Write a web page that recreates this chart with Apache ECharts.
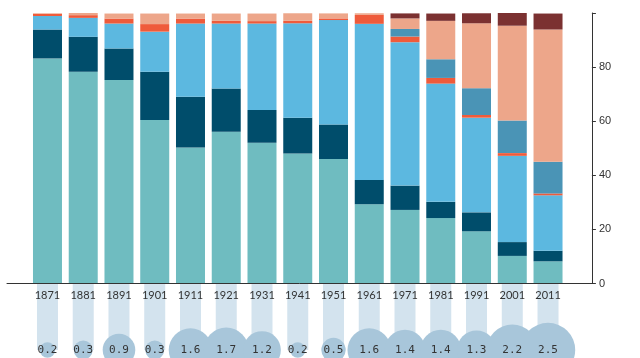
<!DOCTYPE html>
<html>
<head>
<meta charset="utf-8">
<script src="https://cdn.jsdelivr.net/npm/echarts@6/dist/echarts.min.js"></script>
<style>html,body{margin:0;padding:0;background:#fff;}#c{width:640px;height:358px;}</style>
</head>
<body>
<div id="c"></div>
<script>
const years = ['1871','1881','1891','1901','1911','1921','1931','1941','1951','1961','1971','1981','1991','2001','2011'];
const teal = [83.2,78.3,75.2,60.4,50.3,56.1,52.0,48.1,46.0,29.3,27.2,24.2,19.3,10.2,8.2];
const navy = [10.7,12.9,11.7,17.9,18.7,16.0,12.1,13.2,12.8,9.0,9.0,6.0,7.0,5.1,3.9];
const lightBlue = [5.0,7.0,9.2,14.8,27.1,24.0,32.0,34.9,38.6,57.7,53.0,43.7,35.0,31.9,20.5];
const red = [0.8,1.0,1.85,2.8,1.85,1.0,0.9,0.9,0.6,3.3,2.1,2.1,1.0,1.0,0.7];
const steel = [0,0,0,0,0,0,0,0,0,0,2.8,6.9,9.9,12.1,11.7];
const salmon = [0.2,0.8,1.85,3.9,1.85,2.7,2.8,2.8,1.85,0.6,3.9,14.2,24.0,35.0,48.9];
const maroon = [0,0,0,0,0,0,0,0,0,0,1.85,2.7,3.7,4.7,5.9];
const bubbles = [0.2,0.3,0.9,0.3,1.6,1.7,1.2,0.2,0.5,1.6,1.4,1.4,1.3,2.2,2.5];
const stemLevel = [1,1,1,1,1,1,1,1,1,1,1,1,1,1,1];
const yTicks = [0,20,40,60,80];

const stackColors = ['#6fbcc0','#004d6b','#5cb8e0','#ef5b3b','#4a94b6','#eda68a','#7b3131'];
const stackData = [teal, navy, lightBlue, red, steel, salmon, maroon];

const chart = echarts.init(document.getElementById('c'));
const series = stackData.map((d, k) => ({
  type: 'bar', stack: 'total', xAxisIndex: 0, yAxisIndex: 0,
  data: d, barWidth: 29, itemStyle: { color: stackColors[k] }, silent: true
}));
series.push({
  type: 'bar', xAxisIndex: 1, yAxisIndex: 1, data: stemLevel, barWidth: 21,
  itemStyle: { color: '#d3e3ee' }, z: 1, silent: true
});
series.push({
  type: 'scatter', xAxisIndex: 1, yAxisIndex: 1, clip: false,
  data: bubbles.map((v, i) => [years[i], stemLevel[i], v]),
  symbolSize: d => Math.sqrt(d[2]) * 34.4,
  itemStyle: { color: '#a8c6da', opacity: 1 },
  label: { show: true, position: 'inside', formatter: p => p.data[2].toFixed(1),
    fontFamily: 'DejaVu Sans Mono', fontSize: 11, color: '#333' },
  z: 3, silent: true
});

chart.setOption({
  animation: false,
  backgroundColor: '#fff',
  grid: [
    { left: 29.6, right: 74.1, top: 13, bottom: 74.5 },
    { left: 29.6, right: 74.1, top: 283.5, bottom: 0 },
    { left: 7, right: 48, top: 13, bottom: 74.5 }
  ],
  xAxis: [
    { type: 'category', gridIndex: 0, data: years, z: 10,
      axisLine: { show: false }, axisTick: { show: false },
      axisLabel: { color: '#333', fontSize: 11, margin: 6, fontFamily: 'Lato' } },
    { type: 'category', gridIndex: 1, data: years, show: false },
    { type: 'value', gridIndex: 2, min: 0, max: 1, z: 9,
      axisLine: { show: true, lineStyle: { color: '#333', width: 1 } },
      axisTick: { show: false }, axisLabel: { show: false }, splitLine: { show: false } }
  ],
  yAxis: [
    { type: 'value', gridIndex: 0, position: 'right', offset: 26, min: 0, max: 100, interval: 20,
      axisLine: { show: true, lineStyle: { color: '#333' } },
      axisTick: { show: true, length: 4, lineStyle: { color: '#333' } },
      axisLabel: { color: '#333', fontSize: 11, margin: 7,
        formatter: v => (yTicks.indexOf(v) >= 0 ? String(v) : '') },
      splitLine: { show: false } },
    { type: 'value', gridIndex: 1, inverse: true, min: 0, max: 1.12, show: false },
    { type: 'value', gridIndex: 2, show: false }
  ],
  series: series
});
</script>
</body>
</html>
